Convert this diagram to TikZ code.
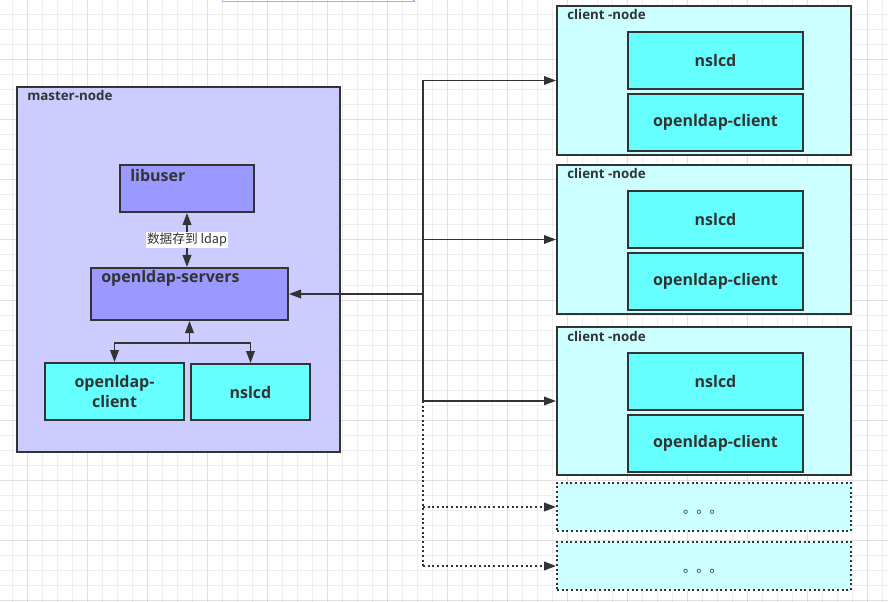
\documentclass[tikz,border=0pt]{standalone}
\usepackage{fontspec}
\setmainfont{Open Sans}
\newfontfamily\cjk{Noto Sans CJK SC}
\usetikzlibrary{arrows.meta}
\definecolor{gridminor}{HTML}{EEEEEE}
\definecolor{gridmajor}{HTML}{E0E0E0}
\definecolor{edge}{HTML}{333333}
\definecolor{masterfill}{HTML}{CCCCFF}
\definecolor{svcfill}{HTML}{9999FF}
\definecolor{cyanfill}{HTML}{66FFFF}
\definecolor{clientfill}{HTML}{CCFFFF}
\definecolor{selblue}{HTML}{7FBFFF}
\tikzset{
  >={Triangle[length=9pt,width=6.5pt]},
  box/.style={draw=edge, line width=1.5pt, inner sep=0pt, text=edge,
    font=\fontsize{12}{14.5}\selectfont\bfseries},
  groupbox/.style={box, fill=masterfill},
  cyanbox/.style={box, fill=cyanfill},
  clientbox/.style={box, fill=clientfill, minimum width=220.5pt, minimum height=111.75pt},
  innerbox/.style={box, fill=cyanfill, minimum width=131.25pt, minimum height=42.75pt},
  dotbox/.style={box, fill=clientfill, minimum width=220.5pt, minimum height=36pt,
    dash pattern=on 1.5pt off 2pt},
  dotstext/.style={inner sep=0pt, text=edge, font=\cjk\fontsize{10}{12}\selectfont},
  lbl/.style={inner sep=0pt, text=edge, font=\fontsize{10}{12}\selectfont\bfseries},
  svclbl/.style={inner sep=0pt, text=edge, font=\fontsize{12}{14.5}\selectfont\bfseries},
  arr/.style={draw=edge, line width=1.2pt, ->},
  conn/.style={draw=edge, line width=1.2pt},
  dotline/.style={dash pattern=on 1.5pt off 2pt},
}
\begin{document}
\begin{tikzpicture}[x=0.75pt, y=-0.75pt]
\useasboundingbox (0,0) rectangle (888,602);
% background grid
\foreach \i in {0,...,58} \draw[gridminor, line width=0.75pt] ({12.7+15*\i},0) -- ++(0,602);
\foreach \i in {1,...,40} \draw[gridminor, line width=0.75pt] (0,{15*\i}) -- ++(888,0);
\foreach \i in {0,...,14} \draw[gridmajor, line width=0.75pt] ({27.7+60*\i},0) -- ++(0,602);
\foreach \i in {1,...,10} \draw[gridmajor, line width=0.75pt] (0,{60*\i}) -- ++(888,0);
\draw[selblue, line width=0.9pt] (222.5,-3) rectangle (414,1.5);

% master node
\node[groupbox, minimum width=242.25pt, minimum height=273.75pt] (master) at (178.5,269.5) {};
\node[lbl, anchor=west] (masterlbl) at (27,96) {master-node};
\node[box, fill=svcfill, minimum width=100.5pt, minimum height=35.25pt] (libuser) at (187,188.5) {};
\node[svclbl, anchor=west] (libuserlbl) at (130,176) {libuser};
\node[box, fill=svcfill, minimum width=147.75pt, minimum height=39pt] (servers) at (189.5,294) {};
\node[svclbl, anchor=west] (serverslbl) at (101,278) {openldap-servers};
\node[cyanbox, minimum width=104.25pt, minimum height=42.75pt, align=center] (mclient) at (114.5,391.5) {openldap-\\client};
\node[cyanbox, minimum width=89.25pt, minimum height=42pt] (mnslcd) at (250.5,392) {nslcd};

% client nodes
\node[clientbox] (c1) at (704,80.5) {};
\node[lbl, anchor=west] (c1lbl) at (567,15) {client -node};
\node[innerbox] (c1n) at (715.5,60.5) {nslcd};
\node[innerbox] (c1o) at (715.5,122.5) {openldap-client};

\node[clientbox] (c2) at (704,239.5) {};
\node[lbl, anchor=west] (c2lbl) at (567,174) {client -node};
\node[innerbox] (c2n) at (715.5,219.5) {nslcd};
\node[innerbox] (c2o) at (715.5,281.5) {openldap-client};

\node[clientbox, minimum height=111pt] (c3) at (704,401) {};
\node[lbl, anchor=west] (c3lbl) at (567,336) {client -node};
\node[innerbox] (c3n) at (715.5,381.5) {nslcd};
\node[innerbox] (c3o) at (715.5,443.5) {openldap-client};

\node[dotbox] (d1) at (704,507) {};
\node[dotstext] (d1t) at (703,512) {。。。};
\node[dotbox] (d2) at (704,566) {};
\node[dotstext] (d2t) at (703,571) {。。。};

% connectors inside master
\draw[arr, <->] (libuser.south) -- (libuser.south |- servers.north)
  node[midway, fill=white, inner sep=1pt, text=edge, font=\cjk\fontsize{9.5}{11}\selectfont] (datalbl) {数据存到 ldap};
\path (servers.south) ++(0,22) coordinate (j);
\draw[arr] (j) -- (servers.south);
\draw[arr] (j) -| (mclient.north);
\draw[arr] (j) -| (mnslcd.north);

% trunk
\coordinate (trunk) at (423,0);
\coordinate (t1) at (c1.west -| trunk);
\coordinate (t2) at (c2.west -| trunk);
\coordinate (t3) at (c3.west -| trunk);
\coordinate (t4) at (d1.west -| trunk);
\coordinate (t5) at (d2.west -| trunk);
\coordinate (ts) at (servers.east -| trunk);
\draw[conn] (t1) -- (t3);
\draw[conn, dotline] (t3) -- (t5);
\draw[arr] (t1) -- (c1.west);
\draw[arr] (t2) -- (c2.west);
\draw[arr] (t3) -- (c3.west);
\draw[arr, dotline] (t4) -- (d1.west);
\draw[arr, dotline] (t5) -- (d2.west);
\draw[arr] (ts) -- (servers.east);
\end{tikzpicture}
\end{document}
